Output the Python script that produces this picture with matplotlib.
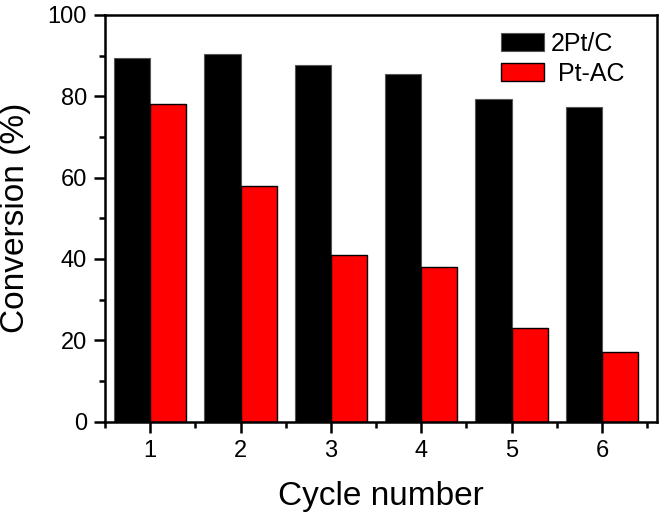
import matplotlib
matplotlib.use("Agg")
import matplotlib.pyplot as plt
import numpy as np
from matplotlib.ticker import MultipleLocator

plt.rcParams['font.family'] = ['Liberation Sans', 'DejaVu Sans']

cycles = [1, 2, 3, 4, 5, 6]
pt_c = [89.4, 90.5, 87.7, 85.5, 79.4, 77.4]
pt_ac = [78.2, 58.0, 41.0, 38.0, 22.9, 17.0]
labels_series = ['2Pt/C', ' Pt-AC']

fig = plt.figure(figsize=(6.61, 5.16), dpi=100)
ax = fig.add_axes([0.159, 0.183, 0.835, 0.788])

x = np.array(cycles, dtype=float)
w = 0.4
ax.bar(x - w/2, pt_c, width=w, color='black', edgecolor='#555555', linewidth=0.8, label=labels_series[0])
ax.bar(x + w/2, pt_ac, width=w, color='#ff0000', edgecolor='black', linewidth=1.0, label=labels_series[1])

ax.set_xlim(0.5, 6.61)
ax.set_ylim(0, 100)
ax.set_xticks(cycles)
ax.set_xticks([c + 0.5 for c in [0] + cycles], minor=True)
ax.yaxis.set_major_locator(MultipleLocator(20))
ax.yaxis.set_minor_locator(MultipleLocator(10))

for s in ax.spines.values():
    s.set_linewidth(1.8)
ax.tick_params(axis='both', which='major', direction='out', length=8, width=1.8, labelsize=17, pad=5)
ax.tick_params(axis='both', which='minor', direction='out', length=4, width=1.8)
ax.tick_params(top=False, right=False, which='both')

ax.set_xlabel('Cycle number', fontsize=24, labelpad=14)
ax.set_ylabel('Conversion (%)', fontsize=24, labelpad=12)

leg = ax.legend(loc='upper left', bbox_to_anchor=(0.694, 0.99), frameon=False, fontsize=18,
                borderpad=0, handlelength=1.75, handleheight=0.7, handletextpad=0.25,
                labelspacing=0.25)

fig.savefig('out.png', dpi=100)
